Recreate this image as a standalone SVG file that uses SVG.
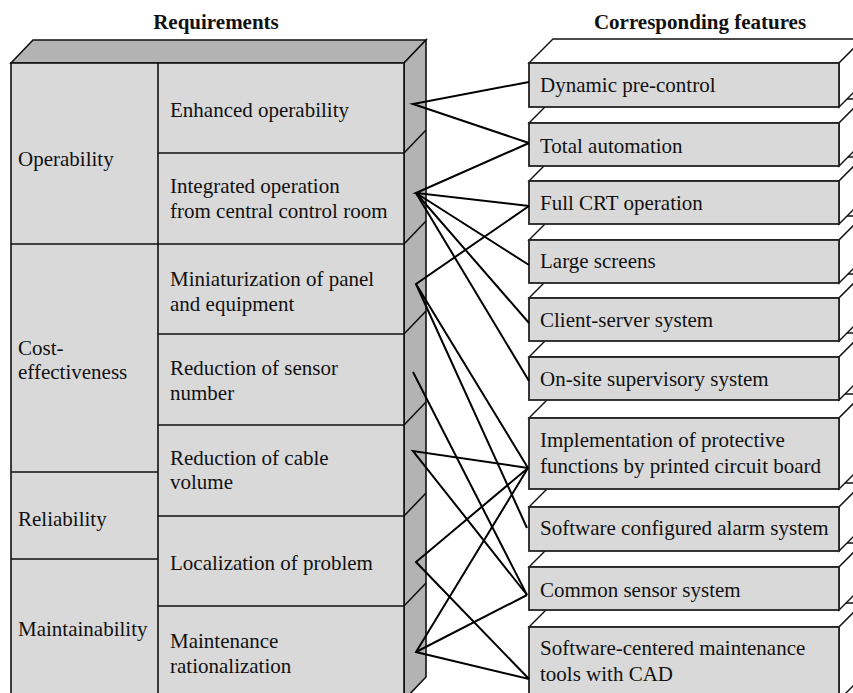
<svg xmlns="http://www.w3.org/2000/svg" width="853" height="693" viewBox="0 0 853 693" font-family="Liberation Serif, Times New Roman, serif">
<style>
text{font-size:21px;fill:#111}
.title{font-weight:bold;text-anchor:middle}
.face{fill:#d9d9d9;stroke:#111;stroke-width:1.6}
.shade{fill:#b3b3b3;stroke:#111;stroke-width:1.6;stroke-linejoin:miter}
.div{stroke:#111;stroke-width:1.6;fill:none}
.wf{fill:#fff;stroke:#111;stroke-width:1.4}
.bf{fill:#d9d9d9;stroke:#222;stroke-width:1.8}
.con{fill:none;stroke:#000;stroke-width:2;stroke-linejoin:miter}
</style>
<rect width="853" height="693" fill="#fff"/>
<text class="title" x="216" y="29">Requirements</text>
<text class="title" x="700" y="29">Corresponding features</text>

<g id="requirements-block">
<polygon class="shade" points="11,63 33,40 426,40 404,63"/>
<polygon class="shade" points="404,63 426,40 426,677 404,700"/>
<rect class="face" x="11" y="63" width="393" height="637"/>
<path class="div" d="M158,63V700 M158,153H404 M11,244H404 M158,334H404 M158,425H404 M158,516H404 M158,606H404 M11,472H158 M11,559H158 M404,153l22,-23 M404,244l22,-23 M404,334l22,-23 M404,425l22,-23 M404,516l22,-23 M404,606l22,-23"/>
</g>
<g id="req-operability"><text x="18" y="166">Operability</text></g>
<g id="req-cost"><text x="18" y="355">Cost-</text><text x="18" y="379">effectiveness</text></g>
<g id="req-reliability"><text x="18" y="526">Reliability</text></g>
<g id="req-maintainability"><text x="18" y="636">Maintainability</text></g>
<g id="req-enhanced"><text x="170" y="117">Enhanced operability</text></g>
<g id="req-integrated"><text x="170" y="193">Integrated operation</text><text x="170" y="218">from central control room</text></g>
<g id="req-miniaturization"><text x="170" y="286">Miniaturization of panel</text><text x="170" y="311">and equipment</text></g>
<g id="req-sensor"><text x="170" y="375">Reduction of sensor</text><text x="170" y="400">number</text></g>
<g id="req-cable"><text x="170" y="465">Reduction of cable</text><text x="170" y="489">volume</text></g>
<g id="req-localization"><text x="170" y="570">Localization of problem</text></g>
<g id="req-maintenance"><text x="170" y="648">Maintenance</text><text x="170" y="673">rationalization</text></g>

<g id="feat-software-centered">
<polygon class="wf" points="529,627 553,603 863,603 839,627"/>
<polygon class="wf" points="839,627 863,603 863,676 839,700"/>
<rect class="bf" x="529" y="627" width="310" height="73"/>
<text x="540" y="655">Software-centered maintenance</text><text x="540" y="681">tools with CAD</text>
</g>
<g id="feat-common-sensor">
<polygon class="wf" points="529,567 553,543 863,543 839,567"/>
<polygon class="wf" points="839,567 863,543 863,586 839,610"/>
<rect class="bf" x="529" y="567" width="310" height="43"/>
<text x="540" y="597">Common sensor system</text>
</g>
<g id="feat-alarm">
<polygon class="wf" points="529,507 553,483 863,483 839,507"/>
<polygon class="wf" points="839,507 863,483 863,527 839,551"/>
<rect class="bf" x="529" y="507" width="310" height="44"/>
<text x="540" y="535">Software configured alarm system</text>
</g>
<g id="feat-implementation">
<polygon class="wf" points="529,418 553,394 863,394 839,418"/>
<polygon class="wf" points="839,418 863,394 863,465 839,489"/>
<rect class="bf" x="529" y="418" width="310" height="71"/>
<text x="540" y="447">Implementation of protective</text><text x="540" y="473">functions by printed circuit board</text>
</g>
<g id="feat-onsite">
<polygon class="wf" points="529,357 553,333 863,333 839,357"/>
<polygon class="wf" points="839,357 863,333 863,376 839,400"/>
<rect class="bf" x="529" y="357" width="310" height="43"/>
<text x="540" y="386">On-site supervisory system</text>
</g>
<g id="feat-client-server">
<polygon class="wf" points="529,298 553,274 863,274 839,298"/>
<polygon class="wf" points="839,298 863,274 863,317 839,341"/>
<rect class="bf" x="529" y="298" width="310" height="43"/>
<text x="540" y="327">Client-server system</text>
</g>
<g id="feat-large-screens">
<polygon class="wf" points="529,240 553,216 863,216 839,240"/>
<polygon class="wf" points="839,240 863,216 863,259 839,283"/>
<rect class="bf" x="529" y="240" width="310" height="43"/>
<text x="540" y="268">Large screens</text>
</g>
<g id="feat-full-crt">
<polygon class="wf" points="529,181 553,157 863,157 839,181"/>
<polygon class="wf" points="839,181 863,157 863,200 839,224"/>
<rect class="bf" x="529" y="181" width="310" height="43"/>
<text x="540" y="210">Full CRT operation</text>
</g>
<g id="feat-total-automation">
<polygon class="wf" points="529,123 553,99 863,99 839,123"/>
<polygon class="wf" points="839,123 863,99 863,142 839,166"/>
<rect class="bf" x="529" y="123" width="310" height="43"/>
<text x="540" y="153">Total automation</text>
</g>
<g id="feat-dynamic">
<polygon class="wf" points="529,63 553,39 863,39 839,63"/>
<polygon class="wf" points="839,63 863,39 863,83 839,107"/>
<rect class="bf" x="529" y="63" width="310" height="44"/>
<text x="540" y="92">Dynamic pre-control</text>
</g>

<g id="connectors">
<polyline class="con" points="529,82 413,104 529,143"/>
<polyline class="con" points="529,143 416,193 529,206"/>
<polyline class="con" points="529,265 416,193 529,323"/>
<polyline class="con" points="416,193 529,381"/>
<polyline class="con" points="529,206 416,284 528,468"/>
<polyline class="con" points="416,284 527,528"/>
<polyline class="con" points="413,372 527,595"/>
<polyline class="con" points="528,468 413,451 527,595"/>
<polyline class="con" points="528,468 416,562 529,679"/>
<polyline class="con" points="528,468 416,652 529,679"/>
<polyline class="con" points="416,652 527,595"/>
</g>
</svg>
